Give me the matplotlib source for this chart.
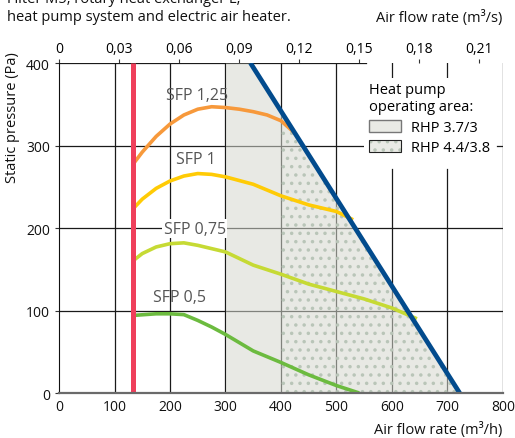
import numpy as np
import matplotlib
matplotlib.use("Agg")
import matplotlib.pyplot as plt
from matplotlib.patches import Patch
from matplotlib.legend_handler import HandlerTuple

plt.rcParams['font.family'] = ['Open Sans', 'DejaVu Sans']
plt.rcParams['hatch.linewidth'] = 1.3

# --- data (air flow m3/h, static pressure Pa) ---
sfp125_x = [133, 150, 175, 200, 225, 250, 275, 300, 325, 350, 375, 400, 425]
sfp125_y = [277, 292, 311, 326, 337, 344, 347, 346, 344, 341, 337, 330, 315]

sfp1_x = [133, 150, 175, 200, 225, 250, 275, 300, 350, 400, 450, 500, 530]
sfp1_y = [223, 235, 248, 257, 263, 266, 265, 262, 253, 239, 228, 220, 210]

sfp075_x = [133, 150, 175, 200, 225, 250, 300, 350, 400, 450, 500, 550, 600, 645]
sfp075_y = [160, 169, 177, 181, 182, 179, 171, 155, 144, 132, 123, 114, 103, 90]

sfp05_x = [133, 175, 200, 225, 250, 275, 300, 350, 400, 450, 500, 541]
sfp05_y = [94, 96, 96, 95, 88, 80, 71, 51, 37, 22, 9, 0]

max_x = [345, 722]      # max. curve (blue)
max_y = [400, 0]
min_flow = 133          # red limit line
rhp37_start = 300
rhp44_start = 400

sfp_labels = ["SFP 1,25", "SFP 1", "SFP 0,75", "SFP 0,5"]
label_pos = [(249, 361), (247, 284), (245, 199), (218, 116)]

top_ticks = [0, 0.03, 0.06, 0.09, 0.12, 0.15, 0.18, 0.21]

fig = plt.figure(figsize=(5.15, 4.39), dpi=100)
ax = fig.add_axes([0.1146, 0.1025, 0.862, 0.7517])
ax.set_xlim(0, 800)
ax.set_ylim(0, 400)

# grid
grid_col = "#1a1a1a"
for gx in range(100, 600, 100):
    ax.plot([gx, gx], [0, 400], color=grid_col, lw=0.9, zorder=1)
for gx in [600, 700]:
    ax.plot([gx, gx], [0, 271], color=grid_col, lw=0.9, zorder=1)
    ax.plot([gx, gx], [374, 400], color=grid_col, lw=0.9, zorder=1)
for gy in [100, 200]:
    ax.plot([0, 800], [gy, gy], color=grid_col, lw=0.9, zorder=1)
ax.plot([0, 553], [300, 300], color=grid_col, lw=0.9, zorder=1)
ax.plot([789, 800], [300, 300], color=grid_col, lw=0.9, zorder=1)
ax.plot([0, 553], [400, 400], color=grid_col, lw=0.9, zorder=1)

# operating areas, bounded by the max curve
slope = (max_y[1] - max_y[0]) / (max_x[1] - max_x[0])
def max_curve(x):
    return np.clip(max_y[0] + slope * (np.asarray(x, float) - max_x[0]), 0, 400)

xa = np.array([rhp37_start, max_x[0], max_x[1]])
ax.fill_between(xa, 0, max_curve(xa), color="#d6d8ce", alpha=0.55, lw=0, zorder=2)
xb = np.array([rhp44_start, max_x[1]])
ax.fill_between(xb, 0, max_curve(xb), facecolor="none", edgecolor="#b9c5b8",
                hatch="..", lw=0, zorder=2)

# curves
ax.plot(sfp125_x, sfp125_y, color="#f7993b", lw=2.6, zorder=4, solid_capstyle="butt")
ax.plot(sfp1_x, sfp1_y, color="#ffcb05", lw=2.6, zorder=4, solid_capstyle="butt")
ax.plot(sfp075_x, sfp075_y, color="#c6da34", lw=2.6, zorder=4, solid_capstyle="butt")
ax.plot(sfp05_x, sfp05_y, color="#6cbb3f", lw=2.6, zorder=4, solid_capstyle="butt")
ax.plot(max_x, max_y, color="#024b8d", lw=3.4, zorder=5, solid_capstyle="butt")
ax.plot([min_flow, min_flow], [0, 400], color="#ef3f5b", lw=3.6, zorder=5,
        solid_capstyle="butt")

for lab, (lx, ly) in zip(sfp_labels, label_pos):
    bbox = dict(facecolor="white", edgecolor="none", pad=1) if lab == "SFP 0,75" else None
    ax.text(lx, ly, lab, color="#555555", fontsize=11.5, ha="center", va="center",
            bbox=bbox, zorder=3)

# legend
h1 = Patch(facecolor="#e9eae5", edgecolor="#777777", lw=1.0)
h2a = Patch(facecolor="#e9eae5", edgecolor="#b9c5b8", hatch="..", lw=0)
h2b = Patch(facecolor="none", edgecolor="#222222", lw=0.8)
leg = ax.legend([h1, (h2a, h2b)], ["RHP 3.7/3", "RHP 4.4/3.8"],
                handler_map={tuple: HandlerTuple(ndivide=1, pad=0)},
                title="Heat pump\noperating area:", alignment="left",
                loc="upper left", bbox_to_anchor=(0.688, 0.955),
                fontsize=10.5, title_fontsize=10.5, frameon=True, fancybox=False,
                handlelength=2.2, handleheight=0.9, handletextpad=0.7,
                borderpad=0.3, labelspacing=0.35, borderaxespad=0)
leg.get_frame().set_edgecolor("none")
leg.get_frame().set_facecolor("white")
leg.get_frame().set_alpha(1)
leg.set_zorder(3)

# axes styling
for s in ["top", "right"]:
    ax.spines[s].set_visible(False)
ax.plot([800, 800], [0, 400], color=grid_col, lw=0.9, zorder=1)
ax.spines["left"].set_color("#111111")
ax.spines["bottom"].set_color("#6a6a6a")
ax.spines["bottom"].set_linewidth(1.6)
ax.spines["bottom"].set_zorder(6)
ax.set_xticks(range(0, 801, 100))
ax.set_yticks(range(0, 401, 100))
ax.tick_params(axis="both", labelsize=10, length=3, width=0.8, color="#333333",
               labelcolor="#111111")
ax.tick_params(axis="x", length=0, pad=4)

sec = ax.secondary_xaxis("top", functions=(lambda x: x / 3600, lambda x: x * 3600))
sec.set_xticks(top_ticks)
sec.set_xticklabels([("%g" % t).replace(".", ",") for t in top_ticks])
sec.tick_params(labelsize=10, length=3, width=0.8, color="#333333", pad=2)
sec.spines["top"].set_visible(False)

fig.text(7 / 515, 1 - 3 / 439, "Filter M5, rotary heat exchanger L,", fontsize=10.5,
         va="baseline", color="#111111")
fig.text(7 / 515, 1 - 21 / 439, "heat pump system and electric air heater.",
         fontsize=10.5, va="baseline", color="#111111")
fig.text(502 / 515, 1 - 22 / 439, "Air flow rate (m\u00b3/s)", fontsize=10.5,
         ha="right", va="baseline", color="#111111")
fig.text(502 / 515, 1 - 434 / 439, "Air flow rate (m\u00b3/h)", fontsize=10.5,
         ha="right", va="baseline", color="#111111")
fig.text(13 / 515, 1 - 118 / 439, "Static pressure (Pa)", fontsize=10.5,
         rotation=90, ha="center", va="center", color="#111111")

fig.savefig("out.png", dpi=100)
